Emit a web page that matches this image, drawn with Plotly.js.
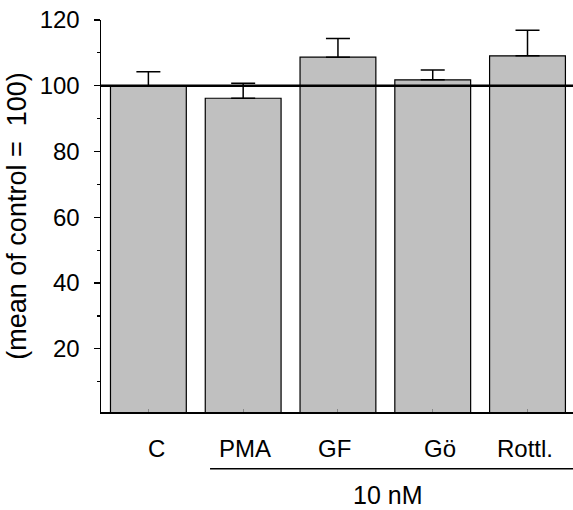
<!DOCTYPE html>
<html>
<head>
<meta charset="utf-8">
<script src="https://cdn.plot.ly/plotly-3.0.1.min.js"></script>
<style>html,body{margin:0;padding:0;background:#fff;}#chart{width:573px;height:510px;}</style>
</head>
<body>
<div id="chart"></div>
<script>
const categories = ["C", "PMA", "GF", "Gö", "Rottl."];
const values = [100, 96.2, 108.7, 101.8, 109.1];
const errorsUp = [4.3, 4.6, 5.7, 3.0, 7.8];
const errorsDown = [0, 0, 0, 0, 0];
const yTickVals = [20, 40, 60, 80, 100, 120];
const referenceLevel = 100;
const groupLabel = "10 nM";
const yTitle = "(mean of control =\u00a0\u00a0100)";

const FONT = "'Liberation Sans', Arial, sans-serif";

const trace = {
  type: "bar",
  x: categories,
  y: values,
  marker: {color: "#c0c0c0", line: {color: "#000", width: 1.2}},
  error_y: {type: "data", symmetric: false, array: errorsUp, arrayminus: errorsDown,
            color: "#000", thickness: 1.5, width: 12},
  hoverinfo: "none"
};

const labelShifts = [8, 2, -3, 7, -3];
const annotations = categories.map((c, i) => ({
  x: c, y: 0, xref: "x", yref: "paper", yanchor: "top", yshift: -21, xshift: labelShifts[i],
  text: c, showarrow: false, font: {family: FONT, size: 24, color: "#000"}
}));
annotations.push({
  x: 0.608, xref: "paper", y: 0, yref: "paper", yanchor: "top", yshift: -67,
  text: groupLabel, showarrow: false, font: {family: FONT, size: 25, color: "#000"}
});

const layout = {
  width: 573, height: 510,
  margin: {l: 101, r: 0, t: 20, b: 98, pad: 0},
  paper_bgcolor: "#fff", plot_bgcolor: "#fff",
  showlegend: false,
  bargap: 0.2,
  font: {family: FONT, size: 24, color: "#000"},
  xaxis: {
    type: "category", range: [-0.5, 4.48],
    showticklabels: false, showline: true, linecolor: "#000", linewidth: 1.5,
    ticks: "inside", ticklen: 3, tickcolor: "#888", zeroline: false, showgrid: false
  },
  yaxis: {
    range: [0.8, 120], tickvals: yTickVals, ticks: "outside", ticklen: 6, tickwidth: 1.2,
    tickcolor: "#000", showline: true, linecolor: "#000", linewidth: 1.5,
    showgrid: false, zeroline: false, ticklabelstandoff: 9,
    tickfont: {family: FONT, size: 24, color: "#000"},
    minor: {dtick: 10, tick0: 0, ticks: "outside", ticklen: 3, tickcolor: "#000", tickwidth: 1.2, showgrid: false},
    title: {text: yTitle, font: {family: FONT, size: 27, color: "#000"}, standoff: 5}
  },
  shapes: [
    {type: "line", xref: "paper", yref: "y", x0: 0, x1: 1, y0: referenceLevel, y1: referenceLevel,
     line: {color: "#000", width: 2.5}},
    {type: "line", xref: "paper", yref: "paper", x0: 0.231, x1: 1, y0: -0.145, y1: -0.145,
     line: {color: "#000", width: 1.5}}
  ],
  annotations: annotations
};

Plotly.newPlot("chart", [trace], layout, {displayModeBar: false, staticPlot: true});
</script>
</body>
</html>
